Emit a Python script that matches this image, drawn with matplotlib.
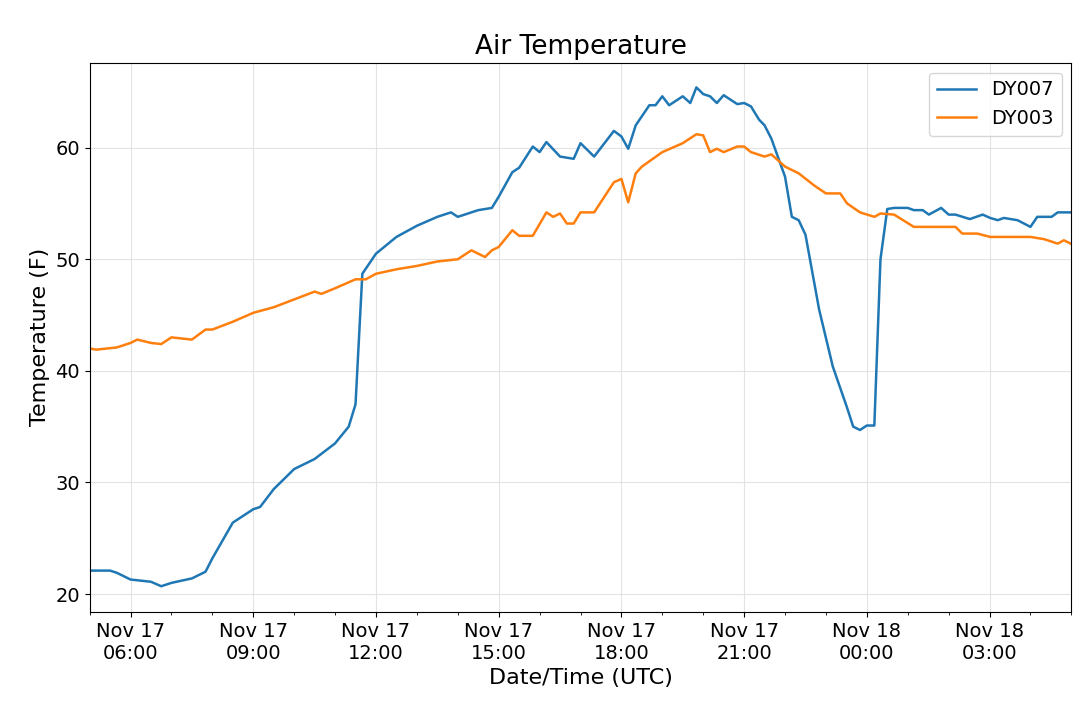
import matplotlib
matplotlib.use("Agg")
import matplotlib.pyplot as plt
import matplotlib.dates as mdates
import pandas as pd

# DY007 readings
dy007_times = [
    "11-17 05:00", "11-17 05:30", "11-17 05:40", "11-17 06:00", "11-17 06:30", "11-17 06:45",
    "11-17 07:00", "11-17 07:30", "11-17 07:50", "11-17 08:00", "11-17 08:30", "11-17 09:00",
    "11-17 09:10", "11-17 09:30", "11-17 10:00", "11-17 10:30", "11-17 11:00", "11-17 11:20",
    "11-17 11:30", "11-17 11:40", "11-17 11:50", "11-17 12:00", "11-17 12:30", "11-17 13:00",
    "11-17 13:30", "11-17 13:50", "11-17 14:00", "11-17 14:30", "11-17 14:50", "11-17 15:00",
    "11-17 15:20", "11-17 15:30", "11-17 15:50", "11-17 16:00", "11-17 16:10", "11-17 16:30",
    "11-17 16:50", "11-17 17:00", "11-17 17:20", "11-17 17:49", "11-17 18:00", "11-17 18:10",
    "11-17 18:21", "11-17 18:41", "11-17 18:50", "11-17 19:00", "11-17 19:10", "11-17 19:30",
    "11-17 19:41", "11-17 19:50", "11-17 20:00", "11-17 20:10", "11-17 20:20", "11-17 20:30",
    "11-17 20:50", "11-17 21:00", "11-17 21:10", "11-17 21:22", "11-17 21:30", "11-17 21:40",
    "11-17 22:00", "11-17 22:10", "11-17 22:20", "11-17 22:30", "11-17 22:50", "11-17 23:10",
    "11-17 23:31", "11-17 23:40", "11-17 23:50", "11-18 00:00", "11-18 00:11", "11-18 00:20",
    "11-18 00:30", "11-18 00:40", "11-18 01:00", "11-18 01:09", "11-18 01:22", "11-18 01:31",
    "11-18 01:49", "11-18 02:00", "11-18 02:10", "11-18 02:31", "11-18 02:50", "11-18 03:01",
    "11-18 03:12", "11-18 03:21", "11-18 03:41", "11-18 04:00", "11-18 04:10", "11-18 04:31",
    "11-18 04:40", "11-18 04:59",
]
dy007_temp = [
    22.1, 22.1, 21.9, 21.3, 21.1, 20.7,
    21.0, 21.4, 22.0, 23.2, 26.4, 27.6,
    27.8, 29.4, 31.2, 32.1, 33.5, 35.0,
    37.0, 48.7, 49.6, 50.5, 52.0, 53.0,
    53.8, 54.2, 53.8, 54.4, 54.6, 55.6,
    57.8, 58.2, 60.1, 59.6, 60.5, 59.2,
    59.0, 60.4, 59.2, 61.5, 61.0, 59.9,
    62.0, 63.8, 63.8, 64.6, 63.8, 64.6,
    64.0, 65.4, 64.8, 64.6, 64.0, 64.7,
    63.9, 64.0, 63.7, 62.5, 62.0, 60.8,
    57.4, 53.8, 53.5, 52.2, 45.5, 40.4,
    36.7, 35.0, 34.7, 35.1, 35.1, 50.0,
    54.5, 54.6, 54.6, 54.4, 54.4, 54.0,
    54.6, 54.0, 54.0, 53.6, 54.0, 53.7,
    53.5, 53.7, 53.5, 52.9, 53.8, 53.8,
    54.2, 54.2,
]

# DY003 readings
dy003_times = [
    "11-17 05:00", "11-17 05:10", "11-17 05:40", "11-17 06:00", "11-17 06:10", "11-17 06:30",
    "11-17 06:45", "11-17 07:00", "11-17 07:30", "11-17 07:50", "11-17 08:00", "11-17 08:30",
    "11-17 09:00", "11-17 09:30", "11-17 10:00", "11-17 10:30", "11-17 10:40", "11-17 11:00",
    "11-17 11:30", "11-17 11:45", "11-17 12:00", "11-17 12:30", "11-17 13:00", "11-17 13:30",
    "11-17 14:00", "11-17 14:20", "11-17 14:40", "11-17 14:50", "11-17 15:00", "11-17 15:20",
    "11-17 15:30", "11-17 15:50", "11-17 16:10", "11-17 16:20", "11-17 16:30", "11-17 16:40",
    "11-17 16:50", "11-17 17:00", "11-17 17:20", "11-17 17:49", "11-17 18:00", "11-17 18:10",
    "11-17 18:21", "11-17 18:30", "11-17 19:00", "11-17 19:30", "11-17 19:50", "11-17 20:00",
    "11-17 20:10", "11-17 20:20", "11-17 20:30", "11-17 20:50", "11-17 21:00", "11-17 21:10",
    "11-17 21:30", "11-17 21:40", "11-17 22:00", "11-17 22:20", "11-17 22:43", "11-17 23:00",
    "11-17 23:21", "11-17 23:31", "11-17 23:50", "11-18 00:11", "11-18 00:20", "11-18 00:40",
    "11-18 01:09", "11-18 02:10", "11-18 02:20", "11-18 02:42", "11-18 03:01", "11-18 03:21",
    "11-18 04:00", "11-18 04:20", "11-18 04:40", "11-18 04:49", "11-18 04:59",
]
dy003_temp = [
    42.0, 41.9, 42.1, 42.5, 42.8, 42.5,
    42.4, 43.0, 42.8, 43.7, 43.7, 44.4,
    45.2, 45.7, 46.4, 47.1, 46.9, 47.4,
    48.2, 48.2, 48.7, 49.1, 49.4, 49.8,
    50.0, 50.8, 50.2, 50.8, 51.1, 52.6,
    52.1, 52.1, 54.2, 53.8, 54.1, 53.2,
    53.2, 54.2, 54.2, 56.9, 57.2, 55.1,
    57.7, 58.3, 59.6, 60.4, 61.2, 61.1,
    59.6, 59.9, 59.6, 60.1, 60.1, 59.6,
    59.2, 59.4, 58.3, 57.7, 56.6, 55.9,
    55.9, 55.0, 54.2, 53.8, 54.1, 54.0,
    52.9, 52.9, 52.3, 52.3, 52.0, 52.0,
    52.0, 51.8, 51.4, 51.7, 51.4,
]

t7 = pd.to_datetime(dy007_times, format="%m-%d %H:%M")
t3 = pd.to_datetime(dy003_times, format="%m-%d %H:%M")

fig = plt.figure(figsize=(10.8, 7.14), dpi=100)
ax = fig.add_axes([0.083, 0.143, 0.909, 0.769])
ax.plot(t7, dy007_temp, color="#1f77b4", lw=1.8, label="DY007")
ax.plot(t3, dy003_temp, color="#ff7f0e", lw=1.8, label="DY003")

ax.set_xlim(pd.Timestamp("1900-11-17 05:00"), pd.Timestamp("1900-11-18 05:00"))
ax.set_ylim(18.4, 67.6)
ax.xaxis.set_major_locator(mdates.HourLocator(byhour=[0, 3, 6, 9, 12, 15, 18, 21]))
ax.xaxis.set_minor_locator(mdates.HourLocator())
ax.xaxis.set_major_formatter(mdates.DateFormatter("%b %d\n%H:%M"))
ax.grid(True, color="#dddddd", lw=0.8, alpha=0.8)
ax.tick_params(labelsize=14)
ax.set_title("Air Temperature", fontsize=19)
ax.set_xlabel("Date/Time (UTC)", fontsize=16)
ax.set_ylabel("Temperature (F)", fontsize=16)
ax.legend(fontsize=14, loc="upper right")

fig.savefig("out.png")
